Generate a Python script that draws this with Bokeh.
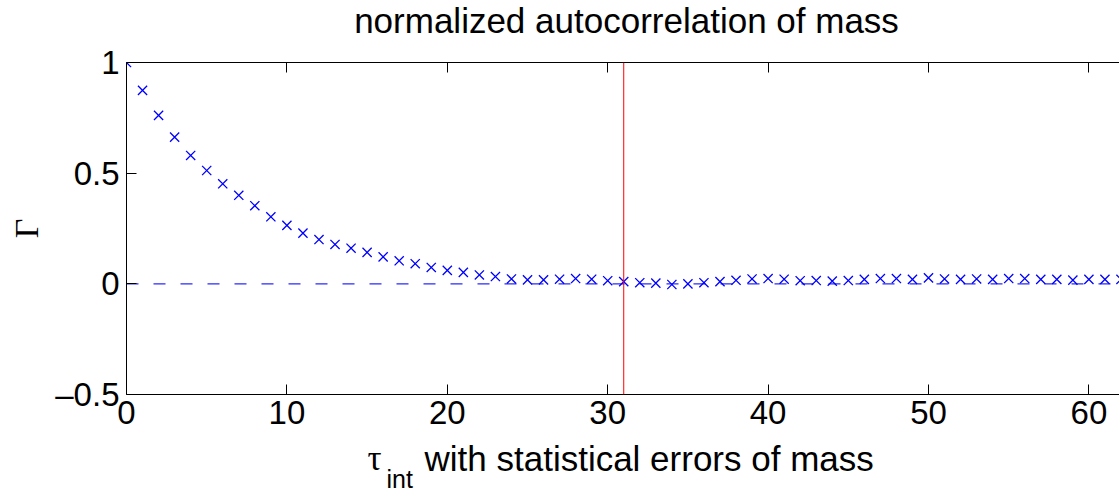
from bokeh.plotting import figure
from bokeh.models import Range1d, LinearAxis, FixedTicker, Span
from bokeh.layouts import column
from bokeh.core.properties import value
from bokeh.embed import file_html
from bokeh.resources import INLINE

# ---- data ----
lags = list(range(0, 63))
gamma = [1.000, 0.874, 0.761, 0.663, 0.580, 0.512, 0.452, 0.400, 0.353, 0.303,
         0.264, 0.229, 0.200, 0.178, 0.161, 0.142, 0.122, 0.104, 0.091, 0.074,
         0.061, 0.052, 0.040, 0.033, 0.022, 0.018, 0.018, 0.021, 0.024, 0.021,
         0.014, 0.010, 0.005, 0.003, -0.003, 0.000, 0.005, 0.010, 0.016, 0.022,
         0.024, 0.021, 0.014, 0.015, 0.012, 0.015, 0.020, 0.024, 0.024, 0.020,
         0.027, 0.022, 0.020, 0.022, 0.020, 0.024, 0.024, 0.020, 0.020, 0.017,
         0.020, 0.020, 0.020]
tau_int = 31
zero_line_x = [0, 62]
zero_line_y = [0, 0]
x_ticks = [0, 10, 20, 30, 40, 50, 60]
y_ticks = [-0.5, 0, 0.5, 1]
y_tick_labels = {-0.5: "\u20130.5", 0: "0", 0.5: "0.5", 1: "1"}
title_text = "normalized autocorrelation of mass"
ylabel_text = "\u0393"
xlabel_symbol = "\u03c4"
xlabel_sub = "int"
xlabel_text = "with statistical errors of mass"

W = 1119
H_TITLE, H_MAIN, H_STRIP = 40, 400, 54
TOTAL_H = H_TITLE + H_MAIN + H_STRIP
L, T, B = 126, 62, 394
XMAX = (W - L) / 16.04
YMIN, YMAX = -0.5, 1.0
FONT = "Liberation Sans"
SERIF = "Liberation Serif"
BASE_K = 0.37  # baseline correction (fraction of font size) for text glyphs


def strip(height):
    f = figure(width=W, height=height, output_backend="svg", toolbar_location=None,
               x_range=Range1d(L, W), y_range=Range1d(0, height),
               min_border=0, x_axis_type=None, y_axis_type=None)
    f.title = None
    f.outline_line_color = None
    f.xgrid.visible = False
    f.ygrid.visible = False
    f.background_fill_color = "white"
    f.border_fill_color = "white"
    return f


# ---- title strip ----
ts = strip(H_TITLE)
ts.text(x=[626], y=[H_TITLE - 33 + BASE_K * 35], text=[title_text], text_font=value(FONT),
        text_font_size=value("35px"), text_align="center", text_baseline="alphabetic",
        text_color="black")

# ---- main plot ----
p = figure(width=W, height=H_MAIN, output_backend="svg", toolbar_location=None,
           x_range=Range1d(0, XMAX), y_range=Range1d(YMIN, YMAX),
           min_border_left=L, min_border_right=0, min_border_top=T - H_TITLE,
           min_border_bottom=H_TITLE + H_MAIN - B)
p.title = None
p.outline_line_color = None
p.xgrid.visible = False
p.ygrid.visible = False
p.background_fill_color = "white"
p.border_fill_color = "white"


def style_axis(ax, size="33px"):
    ax.axis_line_color = "black"
    ax.axis_line_width = 1
    ax.major_tick_in = 10
    ax.major_tick_out = 0
    ax.minor_tick_in = 0
    ax.minor_tick_out = 0
    ax.major_tick_line_color = "black"
    ax.major_label_text_font = FONT
    ax.major_label_text_font_size = size
    ax.major_label_text_color = "black"


xa = p.xaxis[0]
xa.ticker = FixedTicker(ticks=x_ticks)
style_axis(xa)
xa.major_label_standoff = 6

ya = p.yaxis[0]
ya.ticker = FixedTicker(ticks=y_ticks)
ya.major_label_overrides = y_tick_labels
style_axis(ya)
ya.major_label_standoff = 7
ya.axis_label = ylabel_text
ya.axis_label_text_font = SERIF
ya.axis_label_text_font_size = "34px"
ya.axis_label_text_font_style = "normal"
ya.axis_label_text_color = "black"
ya.axis_label_standoff = 7

top = LinearAxis(ticker=FixedTicker(ticks=x_ticks))
style_axis(top)
top.major_label_text_alpha = 0
top.major_label_text_font_size = "1px"
top.major_label_standoff = 0
p.add_layout(top, "above")

p.line(zero_line_x, zero_line_y, line_color="#2a2aff", line_width=1.1,
       line_dash="12 15")
p.scatter(lags, gamma, marker="x", size=13, line_color="blue", line_width=1.3)
p.add_layout(Span(location=tau_int, dimension="height", line_color="red", line_width=1))

# ---- x-axis label strip ----
s = strip(H_STRIP)
for x, base, txt, font, size in [(367, 471, xlabel_symbol, SERIF, 35),
                                 (386, 488, xlabel_sub, FONT, 25),
                                 (424, 471, xlabel_text, FONT, 35)]:
    y = TOTAL_H - base + BASE_K * size
    s.text(x=[x], y=[y], text=[txt], text_font=value(font),
           text_font_size=value(f"{size}px"), text_align="left",
           text_baseline="alphabetic", text_color="black")

layout = column(ts, p, s, spacing=0)
open("out.html", "w").write(file_html(layout, INLINE))
